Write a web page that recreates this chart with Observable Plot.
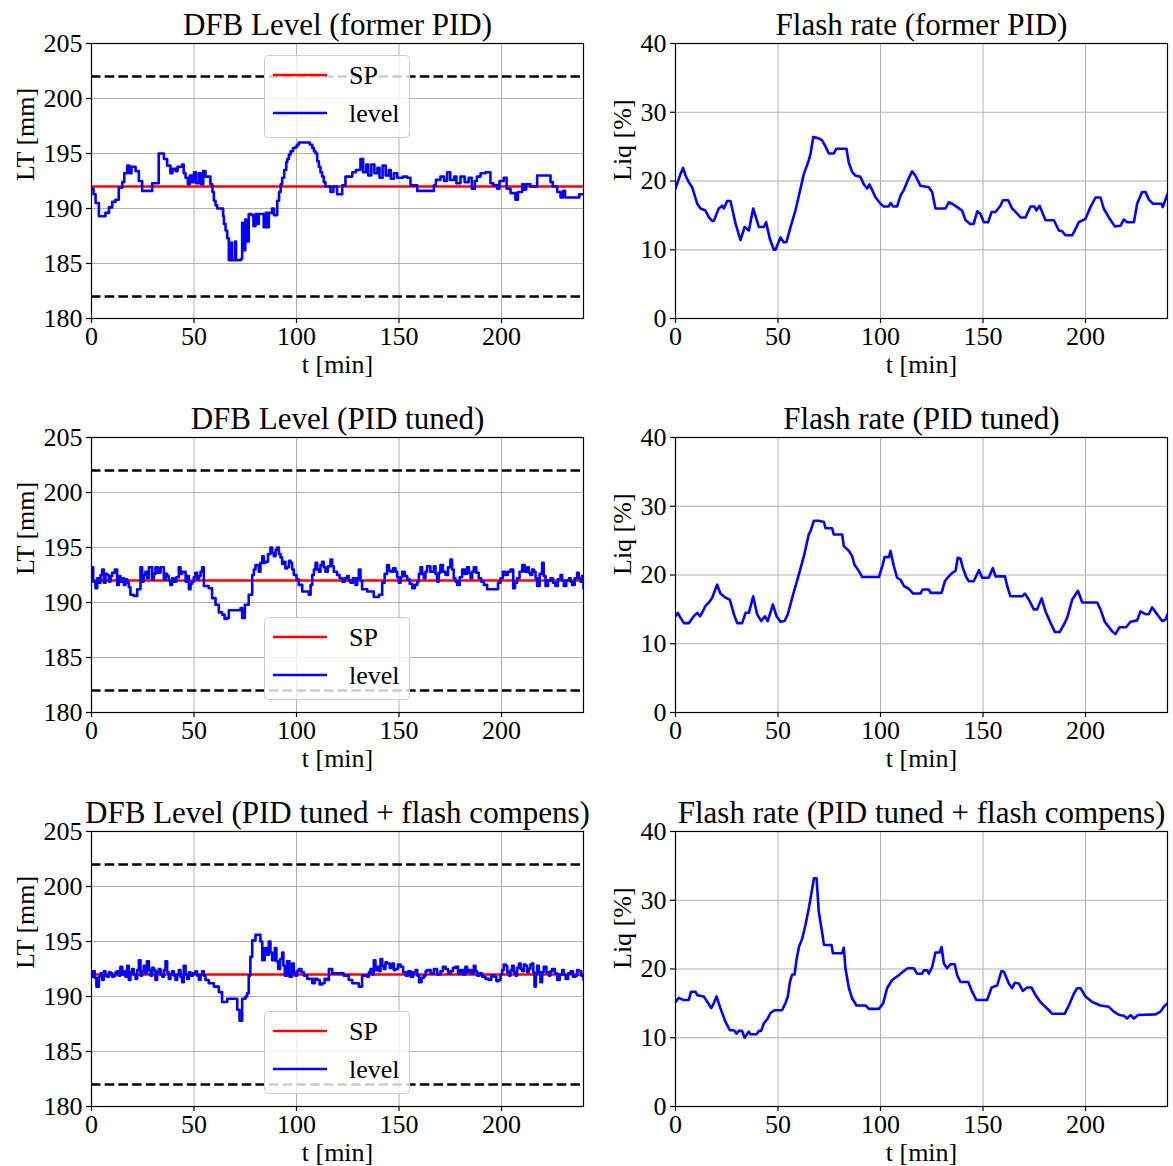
<!DOCTYPE html>
<html>
<head>
<meta charset="utf-8">
<script src="https://cdn.jsdelivr.net/npm/d3@7"></script>
<script src="https://cdn.jsdelivr.net/npm/@observablehq/plot@0.6"></script>
<style>
  html, body { margin: 0; padding: 0; background: #fff; }
  #wrap { position: relative; width: 1173px; height: 1166px; overflow: hidden; font-family: "Liberation Serif", "Times New Roman", serif; }
  #wrap svg, #wrap svg text { font-family: "Liberation Serif", "Times New Roman", serif !important; font-variant: normal !important; font-variant-numeric: normal !important; }
  .panel { position: absolute; }
  .legend { position: absolute; z-index: 5; }
</style>
</head>
<body>
<div id="wrap"></div>
<script>
// ---------- data ----------
const xTicks = [0, 50, 100, 150, 200];
const levelTicks = [180, 185, 190, 195, 200, 205];
const flashTicks = [0, 10, 20, 30, 40];
const setpoint = 192;
const limits = [182, 202];

const titlesLevel = ["DFB Level (former PID)", "DFB Level (PID tuned)", "DFB Level (PID tuned + flash compens)"];
const titlesFlash = ["Flash rate (former PID)", "Flash rate (PID tuned)", "Flash rate (PID tuned + flash compens)"];
const legendLabels = ["SP", "level"];

// [t (min), level (mm)]
const levelFormer = [[0,191.8],[1,191.3],[2,190.5],[3.6,189.3],[6.8,189.6],[8.5,190.1],[10.1,190.6],[11.7,190.8],[13.3,191.9],[15,192.4],[16,193.2],[17.4,193.9],[18.5,193.2],[19.5,193.8],[21.5,193.4],[23.1,192.5],[24.7,191.6],[28,191.6],[29.6,192.3],[31.2,192.3],[32.8,195.0],[35.3,194.5],[36.9,193.9],[38.5,193.2],[39.5,193.6],[41,193.4],[42,193.8],[44.2,194.0],[45,193.2],[45.9,192.8],[47,192.2],[48,193.0],[49.1,192.4],[50,193.3],[51,192.3],[52.4,193.2],[53.5,192.2],[54.5,193.4],[55.6,192.9],[58,192.2],[59,191.5],[59.7,190.7],[60.5,190.3],[61.3,190.0],[63.7,190.0],[64.2,189.3],[64.6,188.6],[65.4,188.0],[66.2,187.3],[67,185.3],[68,186.9],[68.5,185.3],[70,187.0],[70.5,185.3],[72.7,185.4],[73.5,188.7],[74,186.2],[75,189.0],[75.5,187.0],[76.7,189.5],[78,189.4],[79,188.4],[80,189.5],[81,188.6],[81.6,189.5],[83,189.5],[84,188.3],[85,189.6],[85.7,188.3],[86.5,189.6],[88.1,190.0],[89,189.4],[90.6,190.7],[91.5,191.5],[92.3,192.2],[93,192.8],[94,193.5],[95,194.2],[95.5,194.5],[96.3,194.9],[97.1,195.2],[98.3,195.5],[99.5,195.6],[100.3,195.8],[101.1,196.0],[105.2,196.0],[106.5,195.8],[107.7,195.5],[108.5,195.2],[109.3,195.0],[110.1,194.3],[110.9,193.8],[111.7,193.3],[112.5,192.9],[113.3,192.4],[114.1,192.0],[116.6,191.5],[118,192.0],[119.8,191.3],[122.3,192.1],[123.9,192.9],[127.2,193.3],[129,193.5],[131.2,194.5],[132.5,193.3],[134,194.0],[135,193.0],[136.5,194.0],[138,193.2],[139.5,193.7],[140.5,192.8],[142,193.9],[143.5,193.0],[145,193.5],[146,192.7],[147.5,193.2],[149.1,192.8],[152,192.9],[154,192.8],[155.6,192.1],[158.9,191.6],[165.4,191.6],[167,192.1],[168,192.6],[170.2,192.9],[172,192.5],[173.5,193.3],[175,192.6],[177,192.9],[178,192.3],[180,192.9],[182,192.4],[184,192.8],[185.5,191.8],[187,192.5],[188,192.9],[189.8,193.2],[192.2,193.3],[194.6,192.3],[196,192.1],[197.9,191.8],[199,192.5],[201.1,192.8],[202.5,191.8],[204.4,191.4],[206.8,190.8],[208,191.5],[210.1,192.2],[211,191.7],[212,192.2],[214.1,192.0],[217.4,193.0],[222,193.0],[223.9,192.4],[225,192.0],[227.2,191.5],[228.8,191.0],[230,191.6],[231,191.0],[236.9,191.0],[238,191.3],[240,191.3]];

const levelTuned = [[0,193.2],[0.8,191.9],[1.95,191.3],[2.8,192.2],[3.6,191.8],[4.4,192.5],[5.2,193.0],[6,191.8],[6.8,192.6],[7.6,192.5],[8.5,191.9],[9.3,192.4],[10.1,192.7],[11.4,193.0],[12.5,191.6],[13.3,192.4],[14.1,191.9],[15,192.2],[15.8,191.6],[16.6,192.1],[17.4,191.8],[18.2,191.4],[19,190.7],[20.6,190.6],[22.3,191.2],[23.9,193.2],[24.7,191.9],[25.5,192.5],[26.3,192.8],[27.1,192.2],[28,193.2],[29.6,192.1],[30.4,192.6],[31.2,193.2],[32.4,192.7],[33.7,193.2],[35.3,192.1],[36.1,192.6],[36.9,192.4],[37.7,192.0],[38.5,191.6],[39.3,192.2],[40.2,191.9],[41.4,192.3],[42.6,193.2],[43.4,192.6],[44.2,192.8],[45.9,191.9],[46.7,192.4],[47.5,191.2],[48.3,191.7],[49.1,191.9],[49.9,192.3],[50.7,192.7],[51.5,192.1],[52.4,192.4],[53.2,192.8],[54,193.2],[54.8,191.5],[57.2,191.3],[58.8,190.4],[60.5,189.8],[62.1,189.1],[63.7,188.9],[64.9,188.5],[66.2,188.6],[67,189.3],[72.7,189.5],[73.5,188.6],[74.8,189.8],[76.7,190.7],[78.4,192.5],[79.2,193.0],[80,193.4],[81.6,192.8],[82.4,193.6],[83.3,194.2],[84.1,193.6],[84.9,193.7],[86.1,194.4],[87.3,195.0],[88.1,194.5],[88.9,194.2],[89.8,194.8],[90.6,195.0],[91.4,194.4],[92.2,194.1],[93,193.5],[93.8,193.7],[94.6,193.1],[95.4,193.2],[96.3,193.8],[97.1,193.6],[97.9,193.0],[98.7,192.5],[100,192.1],[101.1,191.6],[102.8,191.0],[106,190.7],[106.9,191.6],[107.7,192.5],[108.5,193.0],[109.3,193.6],[110.1,193.0],[110.9,192.8],[111.7,193.4],[112.5,193.7],[113.3,193.2],[114.1,192.8],[115.3,193.3],[116.6,193.9],[117.4,193.3],[118.2,192.8],[119.8,192.5],[121,192.2],[122.3,191.9],[123.5,192.2],[124.7,192.4],[125.5,192.0],[126.3,191.8],[127.5,192.2],[128.8,191.6],[129.6,192.2],[130.4,193.0],[131.2,192.0],[132,191.2],[134.5,191.0],[137.7,190.5],[140.2,190.7],[141.8,191.8],[143,192.6],[144.2,193.4],[145.1,192.9],[145.9,192.8],[147.1,193.1],[148.3,192.8],[149.1,192.3],[149.9,191.8],[150.8,192.3],[151.6,192.8],[152.8,192.4],[154,192.1],[155.2,191.7],[156.5,191.3],[157.7,191.6],[158.9,191.9],[159.7,192.6],[160.5,193.2],[161.3,192.6],[162.1,192.2],[162.9,192.8],[163.7,193.3],[165.3,192.8],[167,193.3],[167.8,192.6],[168.6,191.9],[169.4,192.7],[170.2,193.4],[171.4,192.8],[172.7,192.5],[173.9,193.2],[175.1,193.9],[175.9,193.0],[176.7,192.2],[177.5,191.9],[178.4,191.6],[179.6,192.3],[180.8,193.0],[182,192.6],[183.2,193.2],[184.1,192.7],[184.9,192.2],[185.7,192.8],[186.5,193.2],[187.7,192.7],[188.9,192.2],[190.1,191.9],[191.4,191.6],[193,191.2],[197.1,191.2],[198.3,191.8],[199.5,192.2],[200.7,192.8],[201.9,192.5],[203.1,192.8],[204.4,193.0],[205.7,191.3],[206.6,191.8],[207.6,192.2],[208.8,192.8],[210.1,193.4],[211.3,192.8],[212.5,193.2],[213.3,192.7],[214.1,192.5],[215,193.0],[215.8,192.8],[216.6,192.2],[217.4,191.5],[218.6,192.6],[219.8,193.6],[220.6,192.4],[221.5,191.5],[222.7,192.0],[223.9,192.2],[225.1,191.8],[226.3,191.5],[227.5,192.1],[228.8,192.5],[229.6,192.0],[230.4,191.5],[231.6,192.0],[232.9,192.2],[233.7,191.9],[234.5,191.6],[235.7,192.2],[236.9,192.7],[237.7,192.2],[238.5,191.9],[239.3,192.4],[240,191.3]];

const levelComp = [[0,191.8],[0.8,192.3],[1.6,191.7],[2.4,190.9],[3.6,191.8],[4.4,192.1],[5.2,191.5],[6,192.3],[6.8,191.9],[7.6,191.8],[8.5,192.2],[9.3,192.1],[10.1,191.8],[10.9,191.9],[11.7,192.2],[12.5,192.3],[13.3,191.9],[14.1,192.7],[15,192.0],[15.8,192.3],[16.6,191.8],[17.4,192.8],[18.2,191.5],[19,192.2],[19.8,192.5],[20.6,192.0],[21.5,191.6],[22.3,192.4],[23.1,193.3],[23.9,191.9],[24.7,192.3],[25.5,192.8],[26.3,192.1],[27.1,193.2],[28,192.4],[28.8,191.9],[29.6,192.6],[30.4,192.4],[31.2,191.5],[32,192.2],[32.8,192.5],[33.7,192.0],[34.5,191.8],[35.3,192.4],[36.1,193.2],[36.9,192.2],[37.7,191.6],[38.5,192.0],[39.3,192.3],[40.2,191.9],[41,191.5],[41.8,192.0],[42.6,192.4],[43.4,191.8],[44.2,191.3],[45,192.8],[45.9,192.0],[46.7,191.6],[47.5,192.2],[48.3,191.9],[49.5,192.1],[50.7,192.3],[51.5,191.9],[52.4,191.5],[53.2,192.0],[54,192.3],[54.8,191.9],[55.6,191.5],[57.2,191.2],[59.7,190.9],[62.1,190.4],[63.7,189.5],[66.2,189.8],[70.2,189.8],[71.1,188.8],[72.2,187.8],[73.5,189.8],[75.1,190.0],[75.9,190.3],[76.7,191.9],[77.5,193.6],[78.4,195.1],[80,195.6],[81.6,195.6],[82.4,195.0],[83.3,193.3],[84.5,194.4],[85.7,193.8],[86.5,195.0],[87.3,194.0],[88.1,193.3],[89.4,194.4],[90.2,193.2],[91.1,192.5],[92,193.4],[93,194.0],[93.6,192.8],[94.3,191.9],[95.4,193.2],[96.6,191.8],[97.9,193.0],[98.7,192.2],[99.5,191.9],[100.3,192.3],[101.1,192.5],[102.4,192.2],[103.6,191.9],[105.2,191.6],[107.7,191.2],[108.9,191.6],[110.1,191.5],[111.3,191.1],[112.5,191.2],[113.7,191.6],[114.9,191.5],[115.8,192.5],[117.4,192.1],[119.8,192.1],[123,191.9],[125.5,191.5],[127.2,191.2],[130.4,190.9],[132,191.9],[134.5,191.8],[135.3,192.2],[136.1,192.5],[136.9,192.0],[137.7,193.3],[138.5,192.4],[139.4,192.7],[140.2,192.3],[141,193.4],[141.8,192.8],[142.6,192.5],[143.4,193.1],[144.2,193.0],[145.5,192.6],[146.7,193.0],[147.5,192.4],[148.3,192.5],[149.5,192.9],[150.8,192.7],[152,192.2],[153.3,191.9],[154.5,192.3],[155.7,191.8],[156.9,192.2],[158.1,192.4],[158.9,191.9],[159.8,191.3],[161,191.7],[162.2,191.9],[163,192.3],[163.8,192.4],[165.4,192.1],[167,192.5],[168.6,192.0],[170.2,192.3],[171.4,192.7],[172.7,192.5],[173.9,192.1],[175.1,192.3],[176.3,192.6],[177.6,192.7],[178.8,192.1],[180,192.4],[181.2,192.0],[182.4,192.7],[183.2,192.2],[184.1,192.4],[185.3,192.1],[186.5,192.8],[187.3,192.3],[188.1,191.9],[189.3,192.1],[190.6,191.8],[192.2,191.6],[193.8,191.5],[195,191.9],[196.3,191.8],[197.5,191.4],[198.7,191.5],[199.5,192.0],[200.3,192.4],[201.1,192.9],[202,192.8],[202.8,192.2],[203.6,191.9],[204.4,192.4],[205.2,192.8],[206,192.2],[206.8,191.9],[207.6,192.6],[208.5,193.0],[209.3,192.5],[210.1,192.3],[210.9,192.9],[211.7,192.8],[212.5,192.2],[213.3,192.5],[214.1,192.9],[214.9,193.0],[215.5,192.2],[216.1,190.9],[216.8,192.0],[217.4,192.8],[218.2,192.2],[219,191.3],[219.8,192.2],[220.6,192.7],[221.9,192.2],[223.1,191.9],[223.9,192.3],[224.7,192.5],[226,192.1],[227.2,191.5],[228.4,192.0],[229.6,192.4],[230.4,192.0],[231.3,191.6],[232.5,192.1],[233.7,192.3],[234.9,191.8],[236.1,191.9],[236.9,192.4],[237.7,192.3],[238.9,191.9],[240,191.5]];

// [t (min), flash rate (%)]
const flashFormer = [[0,18.9],[2.4,21.0],[3.7,21.9],[4.9,20.8],[6.5,19.8],[8.1,19.1],[10.6,16.7],[12.2,16.0],[14.6,15.7],[16.3,14.7],[17.9,14.2],[18.7,14.2],[21.1,16.0],[22.8,16.4],[23.6,16.0],[25.2,17.1],[26.8,17.1],[29.3,13.8],[31.7,11.4],[33.7,13.3],[35.8,12.8],[37.9,16.0],[40.7,13.3],[43.1,13.3],[44.2,14.0],[46,11.6],[48,10.0],[48.8,10.0],[51.2,11.8],[52.8,11.1],[54.1,11.1],[56.1,13.3],[58.5,15.7],[60.2,17.9],[62.6,21.0],[65,23.0],[65.9,24.0],[67.2,26.4],[69.9,26.2],[71.5,25.9],[73.2,25.0],[74.8,24.0],[77.2,24.0],[78.5,24.7],[83.4,24.7],[84.5,22.7],[86.2,21.3],[87.8,20.8],[90.2,20.6],[91.9,19.5],[93.5,18.9],[94.6,19.5],[95.9,18.7],[97.6,17.6],[100,16.7],[101.6,16.3],[104,16.3],[104.9,16.8],[106.2,16.3],[108.1,16.3],[109.8,17.9],[111.4,18.7],[113.3,20.1],[115.4,21.4],[117,20.8],[119.5,19.3],[123.6,19.1],[125.2,18.4],[126.8,16.0],[131.7,16.0],[133.3,16.9],[134.9,16.7],[137.4,16.2],[139.8,15.7],[141.5,14.3],[143.9,13.7],[145.5,13.8],[147.2,15.6],[148.8,15.2],[150.4,14.0],[152.5,14.0],[154.2,15.5],[156.1,15.5],[158.5,16.4],[159.7,17.2],[162.3,17.2],[164.2,16.0],[165.9,15.5],[168.3,14.7],[170.7,14.7],[173.2,16.3],[175.1,16.3],[176,15.7],[177.6,16.4],[180.5,14.3],[184.6,14.3],[187,12.8],[188.6,12.7],[190.2,12.1],[193.5,12.1],[195.1,13.0],[196.7,14.0],[200,14.5],[202.4,16.2],[204.9,17.6],[207.3,17.6],[208.9,16.0],[211.4,14.7],[214.3,13.4],[217.1,13.5],[218.7,14.4],[220.3,14.0],[223.6,14.0],[225.2,16.7],[227.6,18.4],[229.3,18.4],[230.9,17.3],[232.9,16.7],[237.1,16.7],[237.7,16.2],[240,18.1]];

const flashTuned = [[0,14.0],[1.1,14.5],[2.4,13.8],[4.1,13.0],[6.5,13.0],[8.9,14.0],[10.6,14.5],[11.9,14.0],[13,14.5],[14.6,15.5],[16.3,16.0],[17.9,16.7],[20.3,18.6],[21.9,17.3],[24.4,16.7],[26.5,16.4],[28.5,14.3],[30.1,13.0],[32.5,13.0],[34.2,14.5],[35.8,14.5],[37.9,16.9],[39.8,14.3],[41.8,13.3],[43.6,14.0],[45,13.3],[47.5,15.7],[49.3,14.0],[51.2,13.2],[53.2,13.3],[54.8,14.3],[57.4,17.2],[60.2,20.1],[62.6,22.7],[65,25.9],[65.9,26.4],[67.5,27.9],[69.9,27.9],[72.4,27.7],[73.2,26.8],[76.4,26.8],[77.2,25.9],[81.3,25.9],[82.1,24.2],[84.6,23.5],[86.2,22.7],[87.3,21.5],[89.4,20.6],[91.1,19.7],[99.2,19.7],[100.9,21.3],[102,22.6],[104.1,22.6],[104.9,23.5],[106.5,21.3],[108.1,19.6],[109.8,19.3],[111.4,18.4],[113.8,18.0],[115.9,17.3],[119.5,17.3],[120.6,17.9],[123.6,17.9],[124.4,17.4],[129.8,17.4],[131.4,19.1],[133,19.7],[135,20.3],[136.6,20.6],[137.7,22.5],[139,22.4],[140.2,21.0],[141.8,19.7],[143.1,19.1],[145.5,19.1],[148,20.7],[149.6,19.6],[152.8,19.6],[154.8,21.0],[156.1,19.8],[160.7,19.8],[161.8,18.4],[163.4,16.9],[169.1,16.9],[170.4,17.3],[172.4,16.4],[174.8,15.0],[176.4,15.0],[178.6,16.6],[180.5,14.7],[183,13.0],[185.1,11.7],[187.4,11.7],[189.5,12.8],[191.1,13.8],[193.5,16.4],[196.3,17.7],[198.4,16.0],[205.7,16.0],[207.3,15.0],[209.4,13.2],[213,11.8],[214.6,11.4],[216.6,12.4],[219.8,12.4],[222,13.2],[225.2,13.4],[226.8,14.7],[229.3,14.3],[230.9,14.3],[232.5,15.3],[234.9,14.3],[237.4,13.3],[239,13.5],[240,14.3]];

const flashComp = [[0,15.2],[1.6,15.8],[3.7,15.5],[6.5,15.5],[7.6,16.7],[9.7,16.7],[10.6,16.2],[13.8,16.0],[15.8,15.1],[17.4,14.3],[18.7,15.0],[20,16.0],[21.9,14.3],[24.4,12.3],[26.5,11.1],[28.5,11.1],[29.8,10.6],[30.9,11.0],[32.5,11.0],[33.7,10.0],[35.8,10.9],[36.6,10.5],[39.5,10.5],[40.7,11.0],[41.8,11.0],[43.1,12.1],[45,12.8],[46.3,13.6],[48.3,14.0],[52,14.0],[53.7,15.1],[54.8,16.0],[55.8,18.1],[56.9,19.2],[58.1,19.2],[59,21.3],[60.2,23.2],[61.8,24.4],[63.4,26.4],[65,28.8],[66.7,31.7],[67.5,33.2],[68.8,33.2],[69.9,28.3],[71.5,25.4],[72.4,23.5],[76.1,23.5],[76.8,22.3],[81.3,22.3],[82.1,23.1],[82.9,20.1],[84.6,17.2],[86.2,15.7],[88.3,14.7],[92.7,14.7],[94.3,14.2],[99.2,14.2],[101.3,15.0],[103.2,17.2],[105.7,18.4],[108.9,19.1],[111.4,19.7],[113.3,20.1],[116.2,20.1],[117.9,19.3],[120.3,19.3],[121.1,19.8],[122.8,19.8],[123.6,19.3],[125.2,20.3],[126.8,22.4],[128.8,22.4],[129.8,23.2],[130.9,20.8],[132.5,20.1],[134.1,20.7],[136.2,20.7],[137.4,19.1],[139,18.1],[142.8,18.1],[144.7,16.7],[146.7,15.5],[152,15.5],[154.2,17.3],[156.9,17.6],[159,19.7],[160.2,19.6],[162.6,17.9],[164.2,17.2],[165.5,18.0],[167.5,17.9],[169.4,16.8],[171.5,17.3],[173.7,17.3],[175.6,16.2],[178,15.2],[179.7,14.7],[182.1,14.0],[183.7,13.5],[189.9,13.5],[191.9,14.7],[194.3,16.4],[195.9,17.2],[197.6,17.2],[200,16.0],[203.3,15.2],[207.3,14.7],[211.4,14.5],[213.8,13.8],[216.6,13.3],[218.7,13.2],[220.3,12.8],[222,13.3],[223.6,12.8],[225.7,13.3],[234.2,13.4],[236.6,13.8],[238.2,14.5],[240,15.0]];

const levelSeries = [levelFormer, levelTuned, levelComp];
const flashSeries = [flashFormer, flashTuned, flashComp];

// ---------- drawing ----------
const FONT = '"Liberation Serif", "Times New Roman", serif';
const wrap = document.getElementById("wrap");
const ROW_H = 394, PANEL_H = 378, MT = 43, PLOT_H = 275, MB = PANEL_H - MT - PLOT_H;

function makePanel({series, kind, title, left, top, width, ml, mr}) {
  const data = series.map(([t, v]) => ({t, v}));
  const isLevel = kind === "level";
  const yTicks = isLevel ? levelTicks : flashTicks;
  const grid = {stroke: "#b0b0b0", strokeOpacity: 1, strokeWidth: 1};
  const txt = {fontFamily: FONT, fontSize: 26, fill: "#000"};
  const marks = [
    Plot.gridX(xTicks, grid),
    Plot.gridY(yTicks, grid)
  ];
  if (isLevel) marks.push(Plot.ruleY([setpoint], {stroke: "#ff0000", strokeWidth: 2.4}));
  marks.push(Plot.line(data, {x: "t", y: "v", stroke: "#0000ff", strokeWidth: 2.6, curve: isLevel ? "step-after" : "linear", clip: true}));
  if (isLevel) marks.push(Plot.ruleY(limits, {stroke: "#000", strokeWidth: 2.6, strokeDasharray: "9.5,4.2"}));
  marks.push(
    Plot.frame({stroke: "#000", strokeWidth: 1.2}),
    Plot.axisX(xTicks, {tickSize: 5, tickFormat: () => "", label: null, strokeWidth: 1.2}),
    Plot.axisY(yTicks, {tickSize: 5, tickFormat: () => "", label: null, strokeWidth: 1.2}),
    Plot.text(xTicks, {...txt, x: d => d, text: d => String(d), frameAnchor: "bottom", dy: 18, lineAnchor: "middle"}),
    Plot.text(yTicks, {...txt, y: d => d, text: d => String(d), frameAnchor: "left", dx: -9, textAnchor: "end", lineAnchor: "middle"}),
    Plot.text([title], {...txt, text: d => d, frameAnchor: "top", dy: -18, fontSize: 31, lineAnchor: "middle"}),
    Plot.text(["t [min]"], {...txt, text: d => d, frameAnchor: "bottom", dy: 46, lineAnchor: "middle"}),
    Plot.text([isLevel ? "LT [mm]" : "Liq [%]"], {...txt, text: d => d, frameAnchor: "left", dx: isLevel ? -66 : -53, rotate: -90, lineAnchor: "middle"})
  );
  const svg = Plot.plot({
    width, height: PANEL_H,
    marginTop: MT, marginBottom: MB, marginLeft: ml, marginRight: mr,
    x: {domain: [0, 240]},
    y: {domain: isLevel ? [180, 205] : [0, 40]},
    style: {fontFamily: FONT, fontSize: "26px", color: "#000", background: "transparent", overflow: "visible"},
    marks
  });
  const div = document.createElement("div");
  div.className = "panel";
  div.style.left = left + "px";
  div.style.top = top + "px";
  div.appendChild(svg);
  wrap.appendChild(div);
}

function makeLegend(left, top) {
  const div = document.createElement("div");
  div.className = "legend";
  div.style.left = left + "px";
  div.style.top = top + "px";
  const colors = ["#ff0000", "#0000ff"];
  const ys = [20, 58];
  let inner = `<svg width="146" height="83" style="display:block">
    <rect x="0.5" y="0.5" width="145" height="82" rx="4" ry="4" fill="rgba(255,255,255,0.8)" stroke="#cccccc" stroke-width="1"/>`;
  legendLabels.forEach((lab, i) => {
    inner += `<line x1="9" x2="63" y1="${ys[i]}" y2="${ys[i]}" stroke="${colors[i]}" stroke-width="2.6"/>`;
    inner += `<text x="85" y="${ys[i]}" dy="0.35em" font-size="26" fill="#000">${lab}</text>`;
  });
  inner += `</svg>`;
  div.innerHTML = inner;
  wrap.appendChild(div);
}

for (let r = 0; r < 3; r++) {
  makePanel({series: levelSeries[r], kind: "level", title: titlesLevel[r], left: 0, top: r * ROW_H, width: 600, ml: 91, mr: 17});
  makePanel({series: flashSeries[r], kind: "flash", title: titlesFlash[r], left: 600, top: r * ROW_H, width: 573, ml: 75, mr: 6});
}
// legends: upper centre in row 1, lower centre in rows 2 and 3
makeLegend(264, MT + 12);
makeLegend(264, ROW_H + MT + 180);
makeLegend(264, 2 * ROW_H + MT + 180);
</script>
</body>
</html>
